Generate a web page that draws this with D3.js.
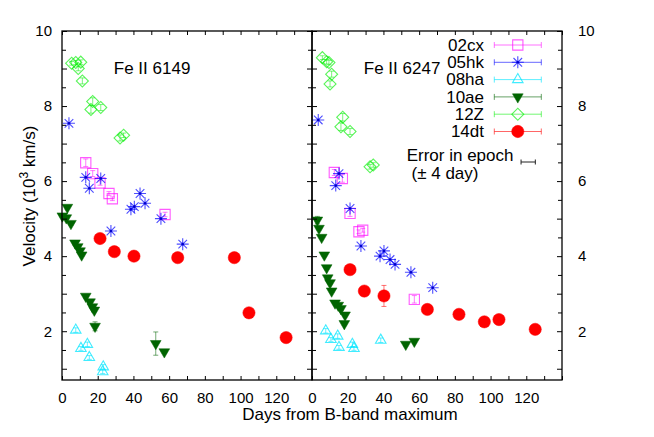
<!DOCTYPE html>
<html><head><meta charset="utf-8">
<script src="https://cdn.jsdelivr.net/npm/d3@7"></script>
<style>
body{margin:0;background:#fff}
svg{display:block}
text{font-family:"Liberation Sans",Arial,Helvetica,sans-serif;fill:#000}
</style>
</head><body>
<svg id="c" width="654" height="437"></svg>
<script>
// ---------- tick labels / categories ----------
const xTickValues = [0,10,20,30,40,50,60,70,80,90,100,110,120,130,140];
const xTickLabels = [0,20,40,60,80,100,120];
const yTickValues = [1,1.5,2,2.5,3,3.5,4,4.5,5,5.5,6,6.5,7,7.5,8,8.5,9,9.5,10];
const yTickLabels = [2,4,6,8,10];
const seriesNames = ["02cx","05hk","08ha","10ae","12Z","14dt"];
const panelTitles = ["Fe II 6149","Fe II 6247"];

// ---------- data: [days from B max, velocity (10^3 km/s), error] ----------
const fe6149_02cx = [[13.3,6.49,0.1],[17.2,6.2,0.08],[21.3,5.95,0.06],[26.3,5.67,0.05],[28.2,5.53,0.05],[57.7,5.11,0.06]];
const fe6149_05hk = [[3.9,7.54,0],[13.3,6.1,0],[15.3,5.81,0],[21.7,6.07,0],[27.4,4.67,0],[38.6,5.25,0],[40.5,5.32,0],[43.7,5.67,0],[46.5,5.41,0],[55.4,5.0,0],[67.6,4.32,0]];
const fe6149_08ha = [[7.7,2.03,0.06],[10.6,1.54,0.05],[14.2,1.65,0.06],[15.3,1.3,0.05],[23.1,1.05,0.06],[22.8,0.92,0.05]];
const fe6149_10ae = [[3.0,5.3,0.05],[0.2,5.07,0.04],[2.4,5.02,0.04],[5.0,4.87,0.04],[7.3,4.35,0.06],[8.8,4.25,0.04],[10.1,4.14,0.04],[11.0,4.03,0.04],[13.3,2.93,0.05],[15.7,2.78,0.04],[17.0,2.65,0.04],[18.1,2.56,0.04],[18.5,2.13,0.12],[52.5,1.67,0.31],[57.3,1.45,0.04]];
const fe6149_12Z  = [[5.4,9.14,0.05],[7.7,9.16,0.05],[10.5,9.17,0.06],[9.1,9.0,0.06],[11.4,8.67,0.08],[17.2,8.12,0.1],[16.2,7.91,0.1],[21.7,7.96,0.08],[32.5,7.15,0.08],[34.5,7.22,0.06]];
const fe6149_14dt = [[21.3,4.47,0.05],[29.3,4.12,0.05],[40.3,4.0,0.05],[64.8,3.96,0.09],[96.5,3.96,0.05],[104.7,2.49,0.05],[125.5,1.83,0.05]];

const fe6247_02cx = [[12.5,6.23,0.08],[17.0,6.07,0.1],[21.3,5.14,0.08],[26.3,4.65,0.05],[28.4,4.69,0.05],[57.3,2.85,0.1]];
const fe6247_05hk = [[3.5,7.63,0],[13.3,5.88,0],[15.1,6.2,0],[21.3,5.27,0],[27.4,4.27,0],[38.1,4.0,0],[40.3,4.14,0],[43.7,3.91,0],[46.5,3.78,0],[55.4,3.57,0],[67.6,3.16,0]];
const fe6247_08ha = [[7.7,2.01,0.06],[10.6,1.78,0.05],[14.4,1.87,0.06],[15.1,1.57,0.05],[22.6,1.65,0.06],[23.5,1.54,0.05],[38.5,1.76,0.06]];
const fe6247_10ae = [[3.0,4.96,0.1],[3.9,4.74,0.04],[5.4,4.5,0.04],[6.9,4.03,0.04],[8.2,3.69,0.04],[8.8,3.42,0.04],[10.1,3.29,0.04],[11.0,3.07,0.04],[12.9,2.75,0.04],[14.7,2.69,0.04],[16.2,2.6,0.04],[18.5,2.43,0.04],[18.1,2.2,0.04],[52.5,1.65,0.04],[57.3,1.73,0.04]];
const fe6247_12Z  = [[5.8,9.29,0.05],[8.2,9.18,0.06],[9.5,9.16,0.06],[11.0,8.85,0.08],[10.1,8.59,0.08],[17.2,7.7,0.1],[16.2,7.45,0.1],[21.3,7.32,0.08],[32.5,6.38,0.06],[34.3,6.43,0.06]];
const fe6247_14dt = [[21.3,3.64,0.05],[29.3,3.07,0.05],[40.3,2.94,0.28],[64.6,2.58,0.05],[82.3,2.45,0.05],[96.5,2.25,0.05],[104.7,2.31,0.05],[125.0,2.05,0.05]];

const epochError = 4; // days

// ---------- styles ----------
const styles = {
  "02cx": {type:"square",   color:"#ff00ff", op:0.65, fill:false},
  "05hk": {type:"asterisk", color:"#0000ff", op:0.7, fill:false},
  "08ha": {type:"triUp",    color:"#00e5ff", op:0.75, fill:false},
  "10ae": {type:"triDown",  color:"#006400", op:1, fill:true},
  "12Z":  {type:"diamond",  color:"#00ee00", op:0.65, fill:false},
  "14dt": {type:"circle",   color:"#ff0000", op:1, fill:true}
};
const panels = [
  {title: panelTitles[0], data: {"02cx":fe6149_02cx,"05hk":fe6149_05hk,"08ha":fe6149_08ha,"10ae":fe6149_10ae,"12Z":fe6149_12Z,"14dt":fe6149_14dt}},
  {title: panelTitles[1], data: {"02cx":fe6247_02cx,"05hk":fe6247_05hk,"08ha":fe6247_08ha,"10ae":fe6247_10ae,"12Z":fe6247_12Z,"14dt":fe6247_14dt}}
];

// ---------- layout ----------
const svg = d3.select("#c");
const plotTop = 31, plotBottom = 380, panelW = 250, left0 = 62;
const y = d3.scaleLinear().domain([0.7,10]).range([plotBottom, plotTop]);

function markerPath(type){
  switch(type){
    case "square":   return d3.symbol(d3.symbolSquare, 105)();
    case "circle":   return d3.symbol(d3.symbolCircle, 118)();
    case "triUp":    return d3.symbol(d3.symbolTriangle, 48)();
    case "triDown":  return d3.symbol(d3.symbolTriangle, 50)();
    case "diamond":  return d3.symbol(d3.symbolSquare, 72)();
    case "asterisk": return "M-6,0H6M0,-6V6M-4.3,-4.3L4.3,4.3M-4.3,4.3L4.3,-4.3";
  }
}
function markerTransform(type){
  if(type==="triDown") return " rotate(180)";
  if(type==="diamond") return " rotate(45)";
  return "";
}
function drawMarker(g, name, cx, cy){
  const s = styles[name];
  g.append("path")
    .attr("d", markerPath(s.type))
    .attr("transform", `translate(${cx},${cy})` + markerTransform(s.type))
    .attr("fill", s.fill ? s.color : "none")
    .attr("stroke", s.color)
    .attr("stroke-opacity", s.op)
    .attr("stroke-width", s.fill ? 0.5 : 1.1);
  if (s.type === "asterisk") {
    g.append("circle").attr("cx",cx).attr("cy",cy).attr("r",1.3).attr("fill","#0000cc");
  }
}

panels.forEach((p, i) => {
  const x0 = left0 + i*panelW;
  const x = d3.scaleLinear().domain([0,140]).range([x0, x0+panelW]);
  const g = svg.append("g");

  // data
  seriesNames.forEach(name => {
    const s = styles[name];
    const pts = p.data[name];
    const eg = g.append("g").attr("stroke", s.color).attr("stroke-opacity", s.fill?0.55:s.op*0.8).attr("stroke-width",1);
    pts.forEach(d => {
      if (d[2] > 0) {
        const cx = x(d[0]), y1 = y(d[1]-d[2]), y2 = y(d[1]+d[2]);
        eg.append("line").attr("x1",cx).attr("x2",cx).attr("y1",y1).attr("y2",y2);
        eg.append("line").attr("x1",cx-2.5).attr("x2",cx+2.5).attr("y1",y1).attr("y2",y1);
        eg.append("line").attr("x1",cx-2.5).attr("x2",cx+2.5).attr("y1",y2).attr("y2",y2);
      }
    });
    pts.forEach(d => drawMarker(g, name, x(d[0]), y(d[1])));
  });

  // axes (ticks inward)
  const fmtX = v => xTickLabels.includes(v) ? v : "";
  const bx = g.append("g").attr("transform",`translate(0,${plotBottom})`)
    .call(d3.axisBottom(x).tickValues(xTickValues).tickSize(-4).tickPadding(12.5).tickFormat(fmtX));
  const tx = g.append("g").attr("transform",`translate(0,${plotTop})`)
    .call(d3.axisTop(x).tickValues(xTickValues).tickSize(-4).tickFormat(""));
  const isMajor = v => Number.isInteger(v);
  const ly = g.append("g").attr("transform",`translate(${x0},0)`)
    .call(d3.axisLeft(y).tickValues(yTickValues).tickSize(-4).tickPadding(10)
      .tickFormat(v => (i===0 && yTickLabels.includes(v)) ? v : ""));
  const ry = g.append("g").attr("transform",`translate(${x0+panelW},0)`)
    .call(d3.axisRight(y).tickValues(yTickValues).tickSize(-4).tickPadding(16)
      .tickFormat(v => (i===1 && yTickLabels.includes(v)) ? v : ""));
  [bx,tx,ly,ry].forEach(a => {
    a.select(".domain").remove();
    a.selectAll("line").attr("stroke","#000").attr("stroke-width",1);
    a.selectAll("text").attr("font-size",15).attr("font-family",'"Liberation Sans",Arial,sans-serif').attr("fill","#000");
  });
  [ly,ry].forEach(a => a.selectAll(".tick").filter(v => isMajor(v)).select("line").attr("x2", a===ly ? 5 : -5));
  bx.selectAll("text").attr("dy","0.71em");

  // frame
  g.append("rect").attr("x",x0).attr("y",plotTop).attr("width",panelW).attr("height",plotBottom-plotTop)
    .attr("fill","none").attr("stroke","#000").attr("stroke-width",1.3);

  // panel title
  g.append("text").attr("x", x(29)).attr("y", 74).attr("font-size",17).text(p.title);
});

// ---------- legend ----------
const lg = svg.append("g");
seriesNames.forEach((name, k) => {
  const s = styles[name];
  const base = 50.7 + k*17.3, cy = base - 5.7;
  lg.append("text").attr("x",484).attr("y",base).attr("text-anchor","end").attr("font-size",17).text(name);
  const lc = lg.append("g").attr("stroke", s.color).attr("stroke-opacity", s.fill?0.6:s.op*0.85).attr("stroke-width",1);
  lc.append("line").attr("x1",494.3).attr("x2",541.3).attr("y1",cy).attr("y2",cy);
  lc.append("line").attr("x1",494.3).attr("x2",494.3).attr("y1",cy-3).attr("y2",cy+3);
  lc.append("line").attr("x1",541.3).attr("x2",541.3).attr("y1",cy-3).attr("y2",cy+3);
  drawMarker(lg, name, 517.8, cy);
});

// error in epoch
lg.append("text").attr("x",406.7).attr("y",160.5).attr("font-size",17).text("Error in epoch");
lg.append("text").attr("x",411.5).attr("y",179).attr("font-size",17).text("(± 4 day)");
{
  const xs = d3.scaleLinear().domain([0,140]).range([0,panelW]);
  const cx = 528.2, cy = 162, hw = xs(epochError);
  const eg = lg.append("g").attr("stroke","#222").attr("stroke-width",1);
  eg.append("line").attr("x1",cx-hw).attr("x2",cx+hw).attr("y1",cy).attr("y2",cy);
  eg.append("line").attr("x1",cx-hw).attr("x2",cx-hw).attr("y1",cy-2.5).attr("y2",cy+2.5);
  eg.append("line").attr("x1",cx+hw).attr("x2",cx+hw).attr("y1",cy-2.5).attr("y2",cy+2.5);
}

// ---------- axis titles ----------
svg.append("text").attr("x",350).attr("y",420).attr("text-anchor","middle").attr("font-size",17)
  .text("Days from B-band maximum");
const yl = svg.append("text").attr("transform","translate(35,196) rotate(-90)")
  .attr("text-anchor","middle").attr("font-size",17);
yl.append("tspan").text("Velocity (10");
yl.append("tspan").attr("dy",-7).attr("font-size",12).text("3");
yl.append("tspan").attr("dy",7).text(" km/s)");
</script>
</body></html>
